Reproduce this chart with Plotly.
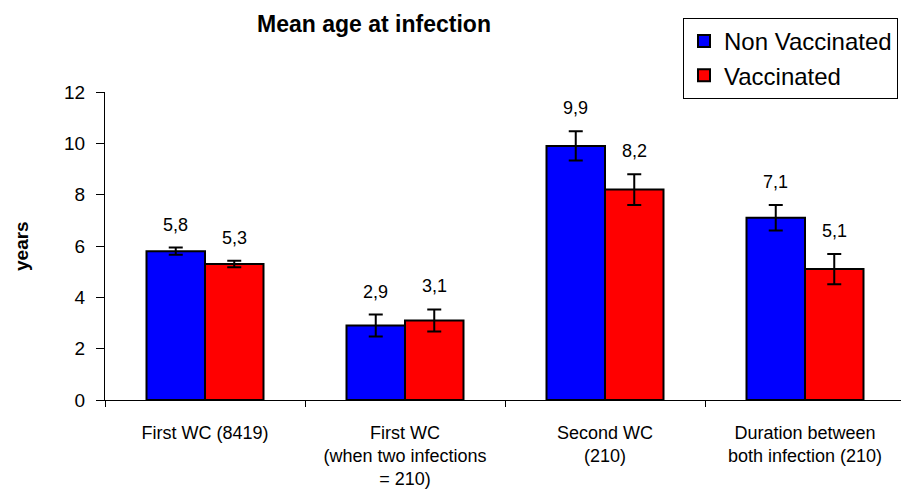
import plotly.graph_objects as go

categories = ["First WC (8419)", "First WC<br>(when two infections<br>= 210)", "Second WC<br>(210)", "Duration between<br>both infection (210)"]
non_vacc = [5.8, 2.9, 9.9, 7.1]
non_vacc_err = [0.14, 0.43, 0.57, 0.5]
vacc = [5.3, 3.1, 8.2, 5.1]
vacc_err = [0.13, 0.43, 0.6, 0.59]
y_ticks = [0, 2, 4, 6, 8, 10, 12]

FONT = "Liberation Sans, Arial, sans-serif"
BARGAP = 0.415
HALF = (1 - BARGAP) / 4  # offset of each bar centre from category centre

fig = go.Figure()
for name, vals, errs, color in [("Non Vaccinated", non_vacc, non_vacc_err, "#0000FF"),
                                 ("Vaccinated", vacc, vacc_err, "#FF0000")]:
    fig.add_trace(go.Bar(
        name=name, x=categories, y=vals,
        marker=dict(color=color, line=dict(color="black", width=2)),
        error_y=dict(type="data", array=errs, color="black", thickness=2, width=7),
        textposition="none",
    ))

# value labels above error bars
for off, vals, errs in [(-HALF, non_vacc, non_vacc_err), (HALF, vacc, vacc_err)]:
    for i, (v, e) in enumerate(zip(vals, errs)):
        fig.add_annotation(x=i + off, y=v + e, xref="x", yref="y",
                           text=f"{v:.1f}".replace(".", ","), showarrow=False,
                           yanchor="bottom", yshift=11,
                           font=dict(family=FONT, size=18, color="black"))

# y axis title
fig.add_annotation(x=(21 - 105) / 800, y=0.5, xref="paper", yref="paper",
                   text="<b>years</b>", textangle=-90, showarrow=False,
                   xanchor="center", yanchor="middle",
                   font=dict(family=FONT, size=19, color="black"))

fig.update_layout(
    width=909, height=496,
    margin=dict(l=97, r=12, t=84, b=104, autoexpand=False),
    paper_bgcolor="white", plot_bgcolor="white",
    barmode="group", bargap=BARGAP, bargroupgap=0,
    title=dict(text="<b>Mean age at infection</b>", x=366 / 909, xanchor="center",
               y=1 - 16 / 496, yanchor="middle",
               font=dict(family=FONT, size=23, color="black")),
    font=dict(family=FONT, color="black"),
    legend=dict(x=675 / 909, y=1 - 10 / 496, xanchor="left", yanchor="top",
                xref="container", yref="container",
                bordercolor="black", borderwidth=1, bgcolor="white",
                font=dict(family=FONT, size=24, color="black"),
                itemwidth=30, tracegroupgap=0),
    showlegend=True,
)
fig.update_xaxes(type="category", showline=True, linecolor="black", linewidth=1,
                 ticks="outside", tickson="boundaries", ticklen=6, tickcolor="black",
                 ticklabelstandoff=16,
                 tickfont=dict(family=FONT, size=18, color="black"),
                 showgrid=False, zeroline=False, range=[-0.5, 3.5], automargin=False)
fig.update_yaxes(range=[0, 12], tickvals=y_ticks, showline=True, linecolor="black", linewidth=1,
                 ticks="outside", ticklen=8, tickcolor="black",
                 ticklabelstandoff=7,
                 tickfont=dict(family=FONT, size=19, color="black"),
                 showgrid=False, zeroline=False, automargin=False)
fig.write_html("out.html")
